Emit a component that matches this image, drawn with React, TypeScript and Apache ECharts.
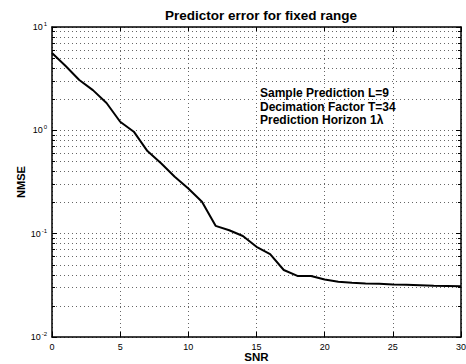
import React, { useEffect, useRef } from "react";
import * as echarts from "echarts";

const snr = [0, 1, 2, 3, 4, 5, 6, 7, 8, 9, 10, 11, 12, 13, 14, 15, 16, 17, 18, 19, 20, 21, 22, 23, 24, 25, 26, 27, 28, 29, 30];
const nmse = [5.6, 4.19, 3.07, 2.45, 1.84, 1.21, 0.97, 0.63, 0.48, 0.356, 0.274, 0.204, 0.119, 0.108, 0.095, 0.0746, 0.0635, 0.0445, 0.039, 0.039, 0.036, 0.0343, 0.0335, 0.033, 0.0327, 0.0323, 0.032, 0.0317, 0.0314, 0.0312, 0.031];
const decades = [0.01, 0.1, 1];
const minorMultipliers = [2, 3, 4, 5, 6, 7, 8, 9];
const titleText = "Predictor error for fixed range";
const xName = "SNR";
const yName = "NMSE";
const annotationLines = ["Sample Prediction L=9", "Decimation Factor T=34", "Prediction Horizon 1λ"];

const FONT = "Liberation Sans, Arial, Helvetica, sans-serif";

export default function App() {
  const ref = useRef<HTMLDivElement>(null);
  useEffect(() => {
    if (!ref.current) return;
    const chart = echarts.init(ref.current, null, { renderer: "svg" });
    const minorVals: number[] = [];
    decades.forEach((d) => minorMultipliers.forEach((m) => minorVals.push(+(d * m).toPrecision(3))));
    const dotted = { color: "#666", width: 1, type: [1, 3] as number[] };
    const tickSegs: any[] = [];
    minorVals.forEach((v) => {
      tickSegs.push([{ coord: [0, v] }, { coord: [0.22, v] }]);
      tickSegs.push([{ coord: [29.78, v] }, { coord: [30, v] }]);
    });
    const axisCommon = {
      axisLine: { show: true, onZero: false, lineStyle: { color: "#000", width: 1.5 } },
      axisTick: { show: true, inside: true, length: 5, lineStyle: { color: "#000", width: 1 } },
    };
    chart.setOption({
      animation: false,
      backgroundColor: "#fff",
      textStyle: { fontFamily: FONT },
      title: {
        text: titleText,
        left: 256,
        textAlign: "center",
        top: 3,
        textStyle: { fontFamily: FONT, fontSize: 13.5, fontWeight: "bold", color: "#000" },
      },
      grid: { left: 52, right: 5, top: 27, bottom: 27, containLabel: false, outerBoundsMode: "none" },
      xAxis: [
        {
          type: "value",
          min: 0,
          max: 30,
          interval: 5,
          name: xName,
          nameLocation: "middle",
          nameGap: 14,
          nameMoveOverlap: false,
          nameTextStyle: { fontFamily: FONT, fontSize: 11.5, fontWeight: "bold", color: "#000" },
          ...axisCommon,
          axisLabel: { fontFamily: FONT, fontSize: 9, color: "#000", margin: 5 },
          splitLine: { show: true, lineStyle: dotted },
        },
        {
          type: "value",
          position: "top",
          min: 0,
          max: 30,
          interval: 5,
          ...axisCommon,
          axisLabel: { show: false },
          splitLine: { show: false },
        },
      ],
      yAxis: [
        {
          type: "log",
          logBase: 10,
          min: 0.01,
          max: 10,
          name: yName,
          nameLocation: "middle",
          nameGap: 26,
          nameMoveOverlap: false,
          nameTextStyle: { fontFamily: FONT, fontSize: 11, fontWeight: "bold", color: "#000" },
          ...axisCommon,
          axisLabel: {
            margin: 5,
            formatter: (v: number) => `{b|10}{s|${Math.round(Math.log10(v))}}`,
            rich: {
              b: { fontFamily: FONT, fontSize: 9, color: "#000", lineHeight: 12 },
              s: { fontFamily: FONT, fontSize: 6, color: "#000", lineHeight: 7, verticalAlign: "top", padding: [0, 0, 0, 1] },
            },
          },
          splitLine: { show: true, lineStyle: dotted },
        },
        {
          type: "log",
          logBase: 10,
          min: 0.01,
          max: 10,
          position: "right",
          ...axisCommon,
          axisLabel: { show: false },
          splitLine: { show: false },
        },
      ],
      series: [
        {
          type: "line",
          data: snr.map((x, i) => [x, nmse[i]]),
          showSymbol: false,
          symbol: "none",
          lineStyle: { color: "#000", width: 2 },
          z: 5,
          markLine: {
            silent: true,
            symbol: "none",
            label: { show: false },
            animation: false,
            lineStyle: dotted,
            data: minorVals.map((v) => ({ yAxis: v })),
          },
        },
        {
          type: "line",
          data: [],
          markLine: {
            silent: true,
            symbol: "none",
            label: { show: false },
            animation: false,
            lineStyle: { color: "#000", width: 1, type: "solid" },
            data: tickSegs,
          },
        },
      ],
      graphic: annotationLines.map((t, i) => ({
        type: "text",
        left: 260,
        top: 87 + i * 13.5,
        style: { text: t, fontFamily: FONT, fontSize: 12, fontWeight: "bold", fill: "#000" },
        z: 10,
      })),
    });
    return () => chart.dispose();
  }, []);
  return <div ref={ref} style={{ position: "fixed", left: 0, top: 0, width: 466, height: 364 }} />;
}
